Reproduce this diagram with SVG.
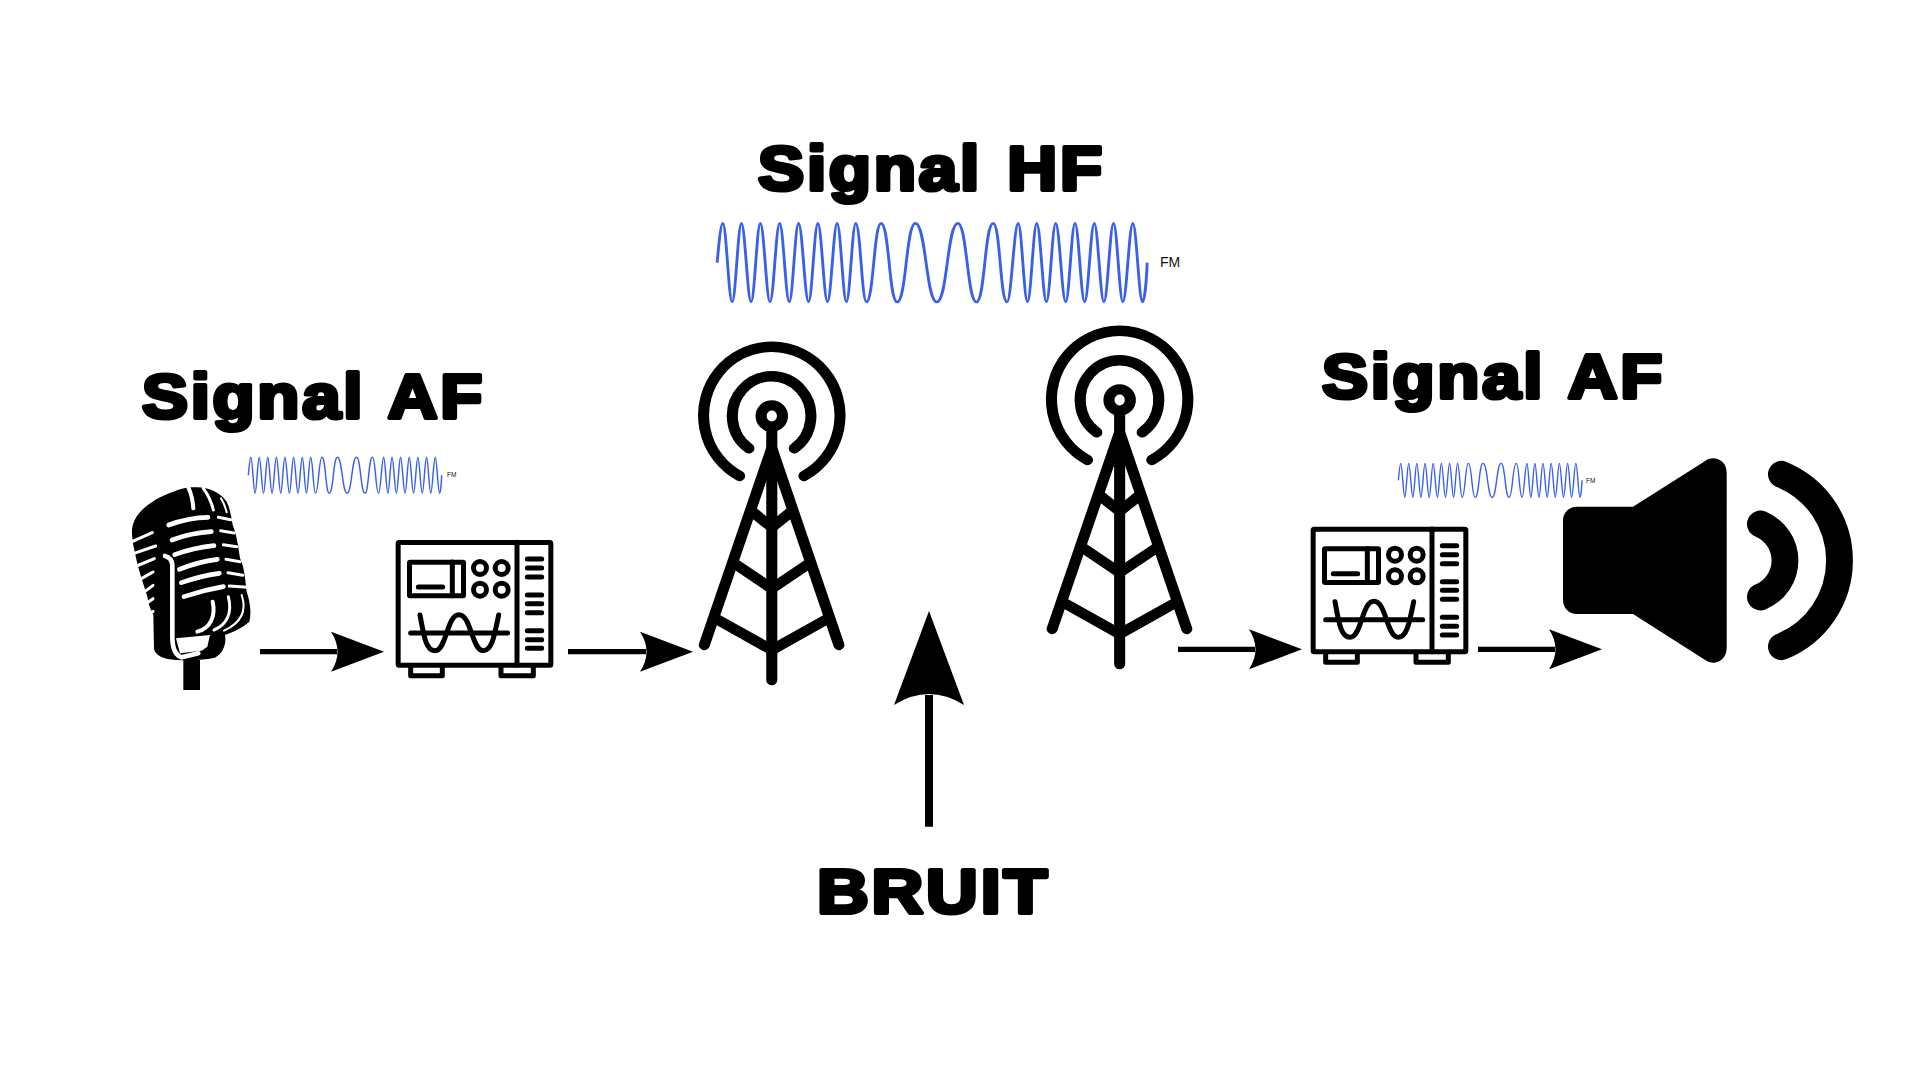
<svg xmlns="http://www.w3.org/2000/svg" xmlns:xlink="http://www.w3.org/1999/xlink" width="1920" height="1080" viewBox="0 0 1920 1080">
<style>
.title{font-family:"Liberation Sans",Arial,sans-serif;font-weight:700;font-size:63px;letter-spacing:2.5px;word-spacing:3px;fill:#000;stroke:#000;stroke-width:4.2px;stroke-linejoin:round}
.fm{font-family:"Liberation Sans",Arial,sans-serif;fill:#111}
.wave{fill:none;stroke:#3a60e8}
.ink{fill:none;stroke:#000;stroke-linecap:round;stroke-linejoin:round}
.wht{fill:none;stroke:#fff;stroke-linecap:round;stroke-linejoin:round}
.conn{stroke:#000;fill:none}
</style>
<defs>
<marker id="head" markerUnits="userSpaceOnUse" markerWidth="53" markerHeight="40" viewBox="0 0 53 40" refX="6" refY="20" orient="auto"><path d="M0,0 L53,20 L0,40 Q13,20 0,0Z" fill="#000"/></marker>
<marker id="headBig" markerUnits="userSpaceOnUse" markerWidth="94" markerHeight="70" viewBox="0 0 94 70" refX="10" refY="35" orient="auto"><path d="M0,0 L94,35 L0,70 Q22,35 0,0Z" fill="#000"/></marker>
<path id="wavePath" d="M104,428 C109,370 114,310 120,310 C129.5,310 136.5,546 146,546 C155.5,546 162.5,310 172,310 C181.8,310 189.2,546 199,546 C208.5,546 215.5,310 225,310 C234.8,310 242.2,546 252,546 C261.8,546 269.2,310 279,310 C288.8,310 296.2,546 306,546 C315.5,546 322.5,310 332,310 C342.2,310 349.8,546 360,546 C369.5,546 376.5,310 386,310 C395.8,310 403.2,546 413,546 C422.8,546 430.2,310 440,310 C449.5,310 456.5,546 466,546 C475.5,546 482.5,310 492,310 C505,310 509,546 522,546 C542,546 543,310 563,310 C586,310 585,546 608,546 C634,546 633,310 659,310 C689,310 689,546 719,546 C749,546 748,310 778,310 C804,310 804,546 830,546 C854,546 853,310 877,310 C897,310 896,546 916,546 C927.3,546 935.7,310 947,310 C956.5,310 963.5,546 973,546 C982.5,546 989.5,310 999,310 C1008.8,310 1016.2,546 1026,546 C1035.5,546 1042.5,310 1052,310 C1062.2,310 1069.8,546 1080,546 C1089.5,546 1096.5,310 1106,310 C1115.8,310 1123.2,546 1133,546 C1142.8,546 1150.2,310 1160,310 C1169.8,310 1177.2,546 1187,546 C1196.8,546 1204.2,310 1214,310 C1223.5,310 1230.5,546 1240,546 C1250.2,546 1257.8,310 1268,310 C1277.8,310 1285.2,546 1295,546 C1300,546 1306,490 1308,428"/>
<g id="tower" transform="translate(680,320) scale(.35714,.33333)">
<g class="ink" stroke-width="31">
<ellipse cx="257" cy="288" rx="30" ry="32"/>
<path d="M193,385 A110,119 0 1 1 320,385"/>
<path d="M167,468 A191,206 0 1 1 347,468"/>
<path d="M257,330 V1080"/>
<path d="M68,975 L257,385 L445,975"/>
<path d="M207,579 L257,622 L307,579"/>
<path d="M152,730 L257,806 L362,730"/>
<path d="M100,896 L257,990 L414,896"/>
</g>
</g>
<g id="scope" transform="translate(100,340) scale(.33333)">
<g class="ink" stroke-width="15">
<rect x="894.5" y="607.5" width="458" height="368" rx="3"/>
<path d="M1251,607V975"/>
<rect x="928.5" y="666.5" width="162" height="101" rx="2"/>
<path d="M1057,666V767"/>
<path d="M955,741H1028"/>
<circle cx="1140" cy="684" r="19.5"/><circle cx="1205" cy="684" r="19.5"/><circle cx="1140" cy="749" r="19.5"/><circle cx="1205" cy="749" r="19.5"/>
<path d="M1282,657H1325M1282,684H1325M1282,711H1325M1282,765H1325M1282,791H1325M1282,818H1325M1282,872H1325M1282,899H1325M1282,925H1325"/>
<path d="M932,879H1223"/>
<path d="M960,825C972,890 978,932 1005,932C1040,932 1040,824 1077,824C1114,824 1115,932 1150,932C1175,932 1183,890 1196,825"/>
<path d="M932,983V1007H1027V983M1203,983V1007H1300V983"/>
</g>
</g>
</defs>
<rect width="1920" height="1080" fill="#fff"/>
<g id="label-af-1"><text class="title" x="142" y="418" textLength="343" lengthAdjust="spacingAndGlyphs">Signal AF</text></g>
<g id="label-hf"><text class="title" x="758" y="190" textLength="347" lengthAdjust="spacingAndGlyphs">Signal HF</text></g>
<g id="label-af-2"><text class="title" x="1322" y="398" textLength="343" lengthAdjust="spacingAndGlyphs">Signal AF</text></g>
<g id="label-bruit"><text class="title" x="817" y="913" textLength="233" lengthAdjust="spacingAndGlyphs">BRUIT</text></g>
<g id="wave-hf"><use href="#wavePath" class="wave" stroke-width="8" transform="translate(680,120) scale(.35714,.33333)"/><text class="fm" x="1160" y="267" font-size="14">FM</text></g>
<g id="wave-af-1"><use href="#wavePath" class="wave" stroke-width="9" transform="translate(231.6,410) scale(.1606,.1525)"/><text class="fm" x="447" y="477" font-size="6.5">FM</text></g>
<g id="wave-af-2"><use href="#wavePath" class="wave" stroke-width="9" transform="translate(1382.5,418.7) scale(.1525,.144)"/><text class="fm" x="1586" y="482.7" font-size="6.5">FM</text></g>
<g id="microphone" transform="translate(120,480) scale(.33333)">
<path d="M36,150 C40,100 90,60 160,35 C185,25 205,20 225,22 C260,20 300,35 320,65 C330,85 335,115 338,135 C350,165 355,200 360,235 C372,260 375,290 380,335 C390,365 395,395 388,425 C365,445 340,455 315,465 C320,490 310,520 285,533 C250,540 200,542 175,540 C140,540 105,530 102,505 L100,405 C90,385 85,370 82,350 C70,310 55,270 45,220 C40,195 35,175 36,150Z" fill="#000"/>
<rect x="190" y="540" width="50" height="90" fill="#000"/>
<path d="M168,475 L270,465 L262,500 L245,512 L180,520Z" fill="#fff"/>
<g class="wht" stroke-width="14">
<path d="M146,135 Q205,113 264,112"/>
<path d="M156,180 Q215,158 274,155"/>
<path d="M164,224 Q225,202 282,197"/>
<path d="M178,268 Q235,245 292,238"/>
<path d="M184,308 Q240,288 298,280"/>
<path d="M192,350 Q250,330 310,320"/>
</g>
<g class="wht" stroke-width="9">
<path d="M295,112 L332,119"/>
<path d="M302,152 L342,159"/>
<path d="M310,194 L350,200"/>
<path d="M318,238 L360,245"/>
<path d="M324,278 L368,286"/>
<path d="M328,318 L382,322"/>
<path d="M36,185 L97,158"/>
<path d="M42,220 L107,198"/>
<path d="M50,258 L103,236"/>
<path d="M60,298 L99,276"/>
<path d="M70,338 L99,316"/>
<path d="M77,372 L99,356"/>
<path d="M85,405 L99,394"/>
</g>
<g class="wht">
<path d="M135,228 Q155,233 157,255 V470 C157,500 165,525 185,532 L235,520" stroke-width="14"/>
<path d="M205,22 Q218,50 220,85" stroke-width="12"/>
<path d="M250,25 Q272,55 280,90" stroke-width="9"/>
<path d="M303,55 Q315,75 320,97" stroke-width="6"/>
<path d="M278,365 C288,410 270,445 232,455" stroke-width="12"/>
<path d="M325,350 C338,400 320,435 282,450" stroke-width="9"/>
<path d="M365,345 C382,395 360,430 312,452" stroke-width="6"/>
</g>
</g>
<g id="modulator"><use href="#scope"/></g>
<g id="tower-tx"><use href="#tower"/></g>
<g id="tower-rx"><use href="#tower" transform="translate(347.86,-16)"/></g>
<g id="demodulator"><use href="#scope" transform="translate(915,-13.3)"/></g>
<g id="speaker">
<path d="M1577,506.7 H1633 L1705.6,460.7 C1714,455 1726.7,460 1726.7,473 V648 C1726.7,661 1714,666 1705.6,660.3 L1633,614 H1577 C1569,614 1563,608 1563,600 V520.7 C1563,512.7 1569,506.7 1577,506.7Z" fill="#000"/>
<path class="ink" stroke-width="26.8" d="M1760.4,524 A39.4,39.4 0 0 1 1760.4,597"/>
<path class="ink" stroke-width="26.8" d="M1781.4,474.3 A93,93 0 0 1 1781.4,646.7"/>
</g>
<g id="connectors">
<line class="conn" x1="260" y1="651.7" x2="337" y2="651.7" stroke-width="5.3" marker-end="url(#head)"/>
<line class="conn" x1="568" y1="651.7" x2="646" y2="651.7" stroke-width="5.3" marker-end="url(#head)"/>
<line class="conn" x1="1178" y1="649.3" x2="1255" y2="649.3" stroke-width="5.3" marker-end="url(#head)"/>
<line class="conn" x1="1478" y1="649.3" x2="1555" y2="649.3" stroke-width="5.3" marker-end="url(#head)"/>
<line class="conn" x1="929" y1="826.7" x2="929" y2="695" stroke-width="8" marker-end="url(#headBig)"/>
</g>
</svg>
